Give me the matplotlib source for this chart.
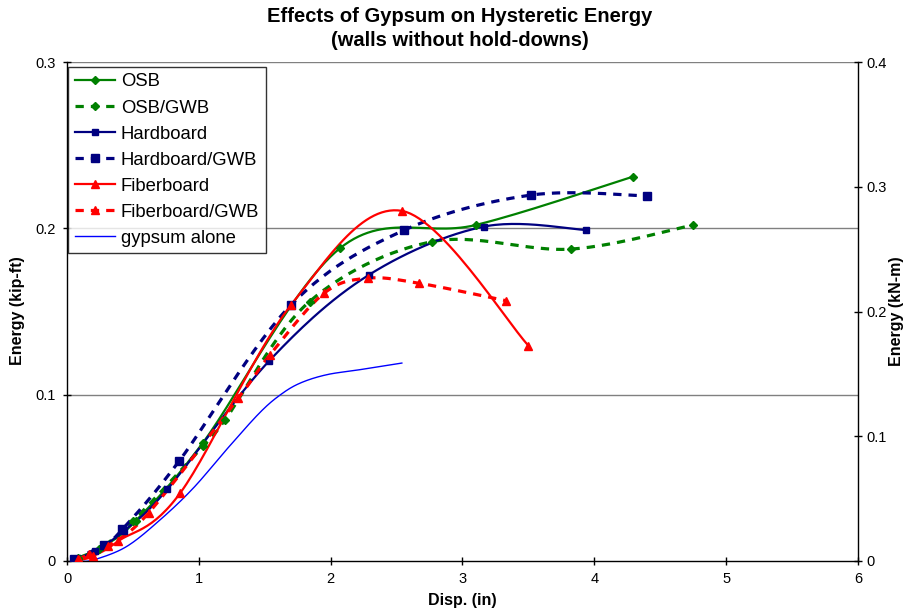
import numpy as np
import matplotlib
matplotlib.use("Agg")
import matplotlib.pyplot as plt
from matplotlib.lines import Line2D

plt.rcParams['font.family'] = ['Liberation Sans', 'DejaVu Sans']

# ---------------- data ----------------
osb_x = [0.08, 0.28, 0.52, 1.03, 2.07, 3.10, 4.29]
osb_y = [0.002, 0.009, 0.024, 0.071, 0.188, 0.202, 0.231]

osbgwb_x = [0.08, 0.24, 0.50, 1.03, 1.20, 1.84, 2.77, 3.82, 4.75]
osbgwb_y = [0.001, 0.007, 0.024, 0.069, 0.085, 0.156, 0.192, 0.1875, 0.202]

hard_x = [0.06, 0.21, 0.43, 0.76, 1.53, 2.29, 3.16, 3.94]
hard_y = [0.001, 0.006, 0.018, 0.043, 0.120, 0.172, 0.201, 0.199]

hardgwb_x = [0.05, 0.28, 0.42, 0.85, 1.70, 2.56, 3.52, 4.40]
hardgwb_y = [0.001, 0.0096, 0.019, 0.060, 0.154, 0.199, 0.220, 0.2195]

fiber_x = [0.09, 0.20, 0.39, 0.86, 1.70, 2.54, 3.50]
fiber_y = [0.0005, 0.003, 0.012, 0.041, 0.154, 0.2105, 0.1295]

fibergwb_x = [0.08, 0.17, 0.31, 0.62, 1.30, 1.54, 1.95, 2.28, 2.67, 3.33]
fibergwb_y = [0.001, 0.004, 0.009, 0.029, 0.098, 0.124, 0.161, 0.170, 0.167, 0.1565]

gyp_x = [0.10, 0.20, 0.45, 0.71, 0.96, 1.21, 1.46, 1.62, 1.77, 1.97, 2.22, 2.54]
gyp_y = [0.0, 0.0006, 0.0086, 0.025, 0.044, 0.067, 0.089, 0.100, 0.107, 0.112, 0.115, 0.119]

labels = ["OSB", "OSB/GWB", "Hardboard", "Hardboard/GWB", "Fiberboard", "Fiberboard/GWB", "gypsum alone"]
title_lines = ["Effects of Gypsum on Hysteretic Energy", "(walls without hold-downs)"]

x_ticks = [0, 1, 2, 3, 4, 5, 6]
yl_ticks = [0, 0.1, 0.2, 0.3]
yr_ticks = [0, 0.1, 0.2, 0.3, 0.4]


def smooth(xs, ys, n=30):
    """Excel-like smoothed curve (Catmull-Rom style Bezier segments)."""
    P = np.column_stack([xs, ys]).astype(float)
    out = []
    m = len(P)
    t = np.linspace(0, 1, n)[:, None]
    for i in range(m - 1):
        p0 = P[i - 1] if i > 0 else P[i]
        p1 = P[i]
        p2 = P[i + 1]
        p3 = P[i + 2] if i + 2 < m else P[i + 1]
        c1 = p1 + (p2 - p0) / 6.0
        c2 = p2 - (p3 - p1) / 6.0
        seg = ((1 - t) ** 3) * p1 + 3 * ((1 - t) ** 2) * t * c1 + 3 * (1 - t) * t ** 2 * c2 + t ** 3 * p2
        out.append(seg if i == 0 else seg[1:])
    out = np.vstack(out)
    return out[:, 0], out[:, 1]


W, H = 909, 613
fig = plt.figure(figsize=(W / 100, H / 100), dpi=100)
L, R, B, T = 67, 858, 561, 62
ax = fig.add_axes([L / W, 1 - B / H, (R - L) / W, (B - T) / H])

green, navy, red, blue = "#008000", "#000080", "#FF0000", "#0000FF"
dash = (0, (2.6, 2.2))

series = [
    (osb_x, osb_y, green, '-', 1.6, 'D', 4.0),
    (osbgwb_x, osbgwb_y, green, dash, 2.3, 'D', 4.5),
    (hard_x, hard_y, navy, '-', 1.6, 's', 4.5),
    (hardgwb_x, hardgwb_y, navy, dash, 2.3, 's', 6.0),
    (fiber_x, fiber_y, red, '-', 1.6, '^', 5.5),
    (fibergwb_x, fibergwb_y, red, dash, 2.3, '^', 6.0),
]

handles = []
for (xs, ys, c, ls, lw, mk, ms), lab in zip(series, labels[:6]):
    sx, sy = smooth(xs, ys)
    ax.plot(sx, sy, color=c, linestyle=ls, linewidth=lw, zorder=3, solid_capstyle='butt')
    ax.plot(xs, ys, linestyle='none', marker=mk, color=c, markersize=ms, zorder=4)
    handles.append(Line2D([], [], color=c, linestyle=ls, linewidth=lw, marker=mk, markersize=ms, label=lab))

gx, gy = smooth(gyp_x, gyp_y)
ax.plot(gx, gy, color=blue, linewidth=1.0, zorder=2)
handles.append(Line2D([], [], color=blue, linewidth=1.0, label=labels[6]))

ax.set_xlim(0, 6)
ax.set_ylim(0, 0.3)
ax.set_xticks(x_ticks)
ax.set_xticklabels([str(v) for v in x_ticks])
ax.set_yticks(yl_ticks)
ax.set_yticklabels(["0", "0.1", "0.2", "0.3"])
for yv in yl_ticks[1:]:
    ax.axhline(yv, color="#808080", linewidth=1.0, zorder=1)

ax.tick_params(axis='both', direction='inout', length=6, width=1, labelsize=10.5, colors='black')
ax.tick_params(axis='x', pad=5)
ax.tick_params(axis='y', pad=5)
for s in ['left', 'bottom']:
    ax.spines[s].set_color('black')
    ax.spines[s].set_linewidth(1.0)
ax.spines['top'].set_visible(False)
ax.spines['right'].set_visible(False)

ax2 = ax.twinx()
ax2.set_ylim(0, 0.4)
ax2.set_yticks(yr_ticks)
ax2.set_yticklabels(["0", "0.1", "0.2", "0.3", "0.4"])
ax2.tick_params(axis='y', direction='inout', length=6, width=1, labelsize=10.5, pad=3)
for s in ['left', 'bottom', 'top']:
    ax2.spines[s].set_visible(False)
ax2.spines['right'].set_color('black')
ax2.spines['right'].set_linewidth(1.0)

leg = ax.legend(handles=handles, loc='upper left', bbox_to_anchor=(0.0015, 0.99),
                borderaxespad=0, frameon=True, fancybox=False, shadow=False,
                fontsize=13.3, handlelength=2.2, handletextpad=0.3, labelspacing=0.49,
                borderpad=0.35)
leg.get_frame().set_edgecolor('black')
leg.get_frame().set_linewidth(1.0)
leg.set_zorder(10)

fig.text(460 / W, 1 - 17 / H, title_lines[0], ha='center', va='center', fontsize=14.5, fontweight='bold')
fig.text(460 / W, 1 - 40 / H, title_lines[1], ha='center', va='center', fontsize=14.5, fontweight='bold')
fig.text(462 / W, 1 - 601 / H, "Disp. (in)", ha='center', va='center', fontsize=11.5, fontweight='bold')
fig.text(18 / W, 1 - 311 / H, "Energy (kip-ft)", ha='center', va='center', rotation=90,
         fontsize=11.5, fontweight='bold')
fig.text(897 / W, 1 - 311 / H, "Energy (kN-m)", ha='center', va='center', rotation=90,
         fontsize=11.5, fontweight='bold')

fig.savefig("out.png", dpi=100)
